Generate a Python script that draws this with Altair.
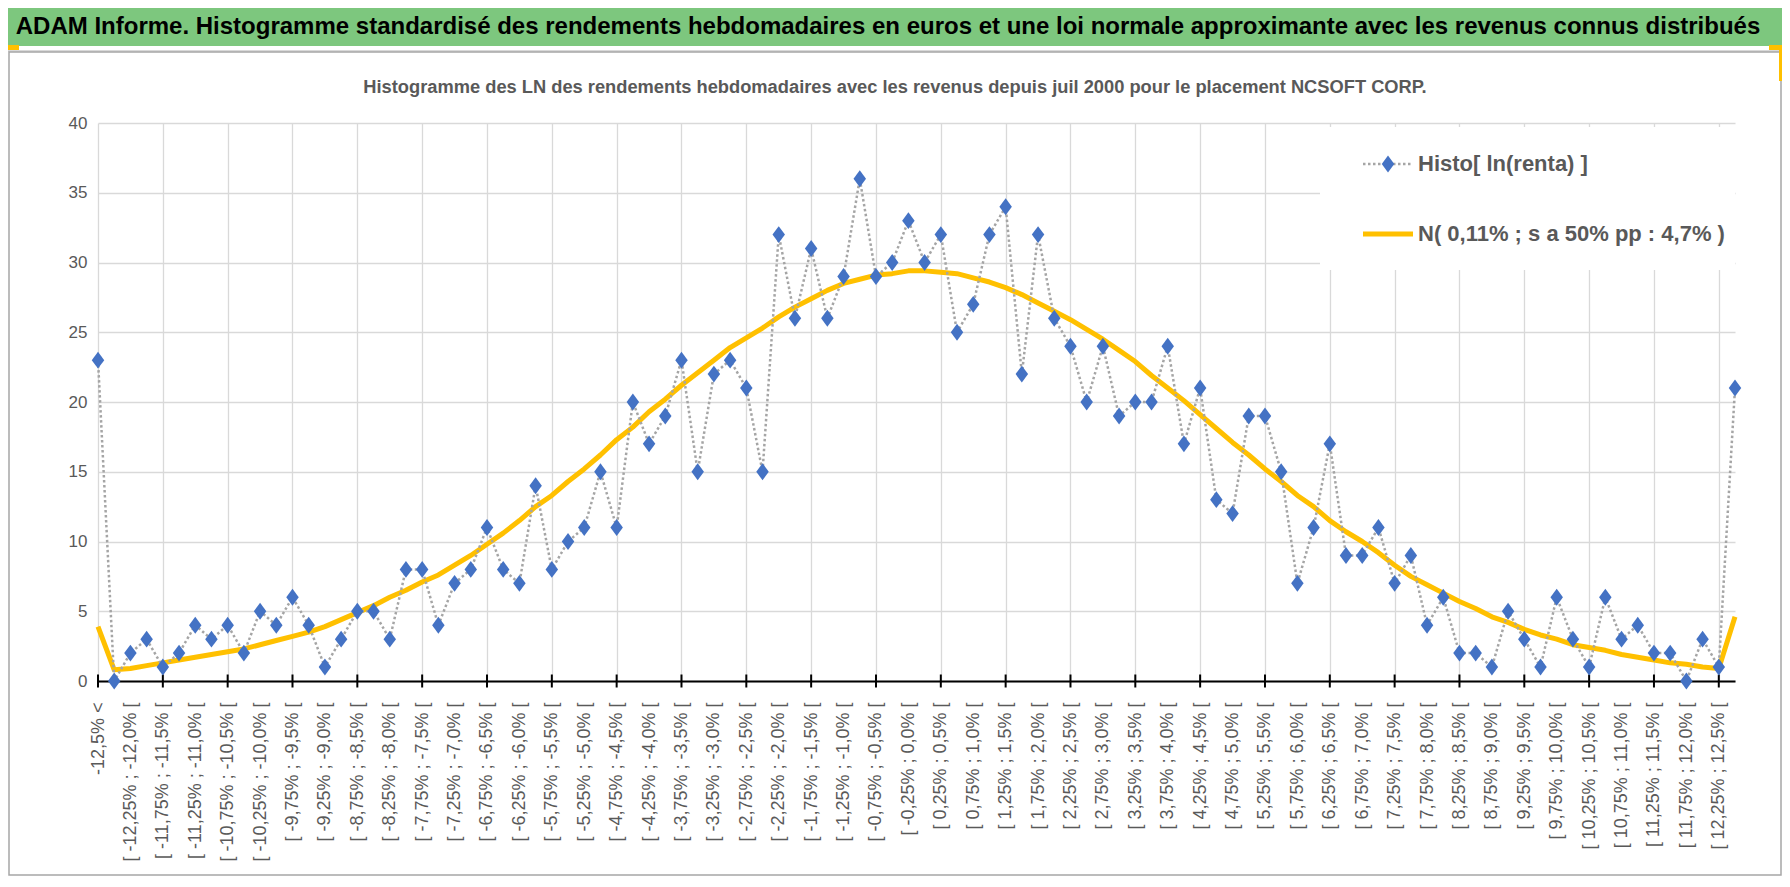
import json
import altair as alt
import pandas as pd

# ---- data ----
HISTO = [23, 0, 2, 3, 1, 2, 4, 3, 4, 2,
         5, 4, 6, 4, 1, 3, 5, 5, 3, 8,
         8, 4, 7, 8, 11, 8, 7, 14, 8, 10,
         11, 15, 11, 20, 17, 19, 23, 15, 22, 23,
         21, 15, 32, 26, 31, 26, 29, 36, 29, 30,
         33, 30, 32, 25, 27, 32, 34, 22, 32, 26,
         24, 20, 24, 19, 20, 20, 24, 17, 21, 13,
         12, 19, 19, 15, 7, 11, 17, 9, 9, 11,
         7, 9, 4, 6, 2, 2, 1, 5, 3, 1,
         6, 3, 1, 6, 3, 4, 2, 2, 0, 3,
         1, 21]

NORMAL = [3.9, 0.8, 0.9, 1.1, 1.3, 1.5, 1.7, 1.9, 2.1, 2.3,
          2.6, 2.9, 3.2, 3.5, 3.9, 4.4, 4.9, 5.4, 6.0, 6.5,
          7.1, 7.6, 8.3, 9.0, 9.8, 10.6, 11.5, 12.5, 13.3, 14.3,
          15.2, 16.2, 17.3, 18.2, 19.3, 20.2, 21.2, 22.1, 23.0, 23.9,
          24.6, 25.3, 26.1, 26.8, 27.4, 28.0, 28.5, 28.8, 29.1, 29.2,
          29.4, 29.4, 29.3, 29.2, 28.9, 28.6, 28.2, 27.7, 27.1, 26.5,
          25.9, 25.2, 24.5, 23.7, 22.9, 21.9, 21.0, 20.1, 19.1, 18.1,
          17.1, 16.2, 15.2, 14.3, 13.3, 12.5, 11.5, 10.7, 10.0, 9.2,
          8.3, 7.5, 6.9, 6.3, 5.7, 5.2, 4.6, 4.2, 3.7, 3.3,
          3.0, 2.6, 2.4, 2.2, 1.9, 1.7, 1.5, 1.3, 1.2, 1.0,
          0.9, 4.6]

# labels shown on every second category (category index = 2 * position in this list)
SHOWN_LABELS = [
    "-12,5% <",
    "[ -12,25% ; -12,0% [", "[ -11,75% ; -11,5% [", "[ -11,25% ; -11,0% [",
    "[ -10,75% ; -10,5% [", "[ -10,25% ; -10,0% [", "[ -9,75% ; -9,5% [",
    "[ -9,25% ; -9,0% [", "[ -8,75% ; -8,5% [", "[ -8,25% ; -8,0% [",
    "[ -7,75% ; -7,5% [", "[ -7,25% ; -7,0% [", "[ -6,75% ; -6,5% [",
    "[ -6,25% ; -6,0% [", "[ -5,75% ; -5,5% [", "[ -5,25% ; -5,0% [",
    "[ -4,75% ; -4,5% [", "[ -4,25% ; -4,0% [", "[ -3,75% ; -3,5% [",
    "[ -3,25% ; -3,0% [", "[ -2,75% ; -2,5% [", "[ -2,25% ; -2,0% [",
    "[ -1,75% ; -1,5% [", "[ -1,25% ; -1,0% [", "[ -0,75% ; -0,5% [",
    "[ -0,25% ; 0,0% [", "[ 0,25% ; 0,5% [", "[ 0,75% ; 1,0% [",
    "[ 1,25% ; 1,5% [", "[ 1,75% ; 2,0% [", "[ 2,25% ; 2,5% [",
    "[ 2,75% ; 3,0% [", "[ 3,25% ; 3,5% [", "[ 3,75% ; 4,0% [",
    "[ 4,25% ; 4,5% [", "[ 4,75% ; 5,0% [", "[ 5,25% ; 5,5% [",
    "[ 5,75% ; 6,0% [", "[ 6,25% ; 6,5% [", "[ 6,75% ; 7,0% [",
    "[ 7,25% ; 7,5% [", "[ 7,75% ; 8,0% [", "[ 8,25% ; 8,5% [",
    "[ 8,75% ; 9,0% [", "[ 9,25% ; 9,5% [", "[ 9,75% ; 10,0% [",
    "[ 10,25% ; 10,5% [", "[ 10,75% ; 11,0% [", "[ 11,25% ; 11,5% [",
    "[ 11,75% ; 12,0% [", "[ 12,25% ; 12,5% [",
]

BANNER = ("ADAM Informe. Histogramme standardisé des rendements hebdomadaires en euros "
          "et une loi normale approximante avec les revenus connus distribués")
SUBTITLE = ("Histogramme des LN des rendements hebdomadaires avec les revenus depuis "
            "juil 2000 pour le placement NCSOFT CORP.")
LEGEND_HISTO = "Histo[ ln(renta) ]"
LEGEND_NORMAL = "N( 0,11% ; s a 50% pp : 4,7% )"

Y_TICKS = [0, 5, 10, 15, 20, 25, 30, 35, 40]

FONT = "Liberation Sans, Arial, sans-serif"
DIAMOND = "M0,-1.35L1,0L0,1.35L-1,0Z"

W, H = 1637, 558

df = pd.DataFrame({"pos": list(range(len(HISTO))), "histo": HISTO, "normal": NORMAL})
one = alt.Data(values=[{"k": 0}])

label_expr = json.dumps(SHOWN_LABELS) + "[datum.value / 2]"

x_axis = alt.Axis(
    values=list(range(0, len(HISTO) - 1, 2)),
    labelExpr=label_expr,
    labelAngle=-90,
    labelOverlap=False,
    labelFlush=False,
    labelBound=False,
    labelFont=FONT,
    labelFontSize=18,
    labelColor="#595959",
    labelPadding=14,
    domainColor="#000000",
    domainWidth=2,
    tickColor="#000000",
    tickWidth=2,
    tickSize=7,
    tickOpacity=0,
    grid=True,
    gridColor="#D9D9D9",
    gridWidth=1.3,
    gridOpacity={"condition": {"test": "datum.value % 4 === 0", "value": 1}, "value": 0},
    title=None,
)
y_axis = alt.Axis(
    values=Y_TICKS,
    domain=False,
    ticks=False,
    grid=True,
    gridColor="#D9D9D9",
    gridWidth=1.3,
    labelFont=FONT,
    labelFontSize=17,
    labelColor="#595959",
    labelPadding=11,
    title=None,
)

xs = alt.X("pos:Q", scale=alt.Scale(domain=[0, len(HISTO) - 1], nice=False, zero=False), axis=x_axis)
ys = alt.Scale(domain=[0, 40], nice=False)

base = alt.Chart(df)

normal_line = base.mark_line(color="#FFC000", strokeWidth=5, strokeJoin="round").encode(
    x=xs, y=alt.Y("normal:Q", scale=ys, axis=y_axis)
)
histo_line = base.mark_line(color="#A5A5A5", strokeWidth=2.5, strokeDash=[2.5, 2.5]).encode(
    x=xs, y=alt.Y("histo:Q", scale=ys)
)
histo_pts = base.mark_point(shape=DIAMOND, filled=True, size=156, color="#4472C4", opacity=1).encode(
    x=xs, y=alt.Y("histo:Q", scale=ys)
)
# tick marks crossing the category axis every 4 categories
cross_ticks = base.transform_filter("datum.pos % 4 === 0").mark_tick(
    color="#000000", thickness=2, size=13, orient="vertical", opacity=1
).encode(x=xs, y=alt.value(H))

# decorations (banner, frame, titles, legend)
banner_rect = alt.Chart(one).mark_rect(color="#7DC77E").encode(
    x=alt.value(-90), x2=alt.value(W + 47), y=alt.value(-115), y2=alt.value(-77)
)
under_line = alt.Chart(one).mark_rule(color="#D9D9D9", strokeWidth=2).encode(
    x=alt.value(-90), x2=alt.value(W + 47), y=alt.value(-72)
)
frame = alt.Chart(one).mark_rect(fill=None, stroke="#A6A6A6", strokeWidth=1.5).encode(
    x=alt.value(-89), x2=alt.value(W + 46), y=alt.value(-71), y2=alt.value(752)
)
corner_l = alt.Chart(one).mark_rect(color="#FFC000").encode(
    x=alt.value(-90), x2=alt.value(-79), y=alt.value(-78), y2=alt.value(-73)
)
corner_r = alt.Chart(one).mark_rect(color="#FFC000").encode(
    x=alt.value(W + 34), x2=alt.value(W + 47), y=alt.value(-78), y2=alt.value(-73)
)
corner_r2 = alt.Chart(one).mark_rect(color="#FFC000").encode(
    x=alt.value(W + 44), x2=alt.value(W + 47), y=alt.value(-78), y2=alt.value(-42)
)
banner_text = alt.Chart(one).mark_text(
    text=BANNER, font=FONT, fontSize=24, fontWeight="bold", color="#000000",
    align="center", baseline="middle"
).encode(x=alt.value(790), y=alt.value(-96))
subtitle = alt.Chart(one).mark_text(
    text=SUBTITLE, font=FONT, fontSize=18.3, fontWeight="bold", color="#595959",
    align="center", baseline="middle"
).encode(x=alt.value(797), y=alt.value(-35))

leg_bg = alt.Chart(one).mark_rect(color="#FFFFFF").encode(
    x=alt.value(1222), x2=alt.value(W), y=alt.value(4), y2=alt.value(147)
)
leg_histo_line = alt.Chart(one).mark_rule(color="#A5A5A5", strokeWidth=2.5, strokeDash=[2.5, 2.5]).encode(
    x=alt.value(1265), x2=alt.value(1315), y=alt.value(41)
)
leg_histo_pt = alt.Chart(one).mark_point(shape=DIAMOND, filled=True, size=156, color="#4472C4", opacity=1).encode(
    x=alt.value(1290), y=alt.value(41)
)
leg_histo_txt = alt.Chart(one).mark_text(
    text=LEGEND_HISTO, font=FONT, fontSize=22, fontWeight="bold", color="#595959",
    align="left", baseline="middle"
).encode(x=alt.value(1320), y=alt.value(41))
leg_norm_line = alt.Chart(one).mark_rule(color="#FFC000", strokeWidth=5).encode(
    x=alt.value(1265), x2=alt.value(1315), y=alt.value(111)
)
leg_norm_txt = alt.Chart(one).mark_text(
    text=LEGEND_NORMAL, font=FONT, fontSize=22, fontWeight="bold", color="#595959",
    align="left", baseline="middle"
).encode(x=alt.value(1320), y=alt.value(111))

chart = alt.layer(
    banner_rect, under_line, frame, corner_l, corner_r, corner_r2, banner_text, subtitle,
    cross_ticks, normal_line, histo_line, histo_pts,
    leg_bg, leg_histo_line, leg_histo_pt, leg_histo_txt, leg_norm_line, leg_norm_txt,
).properties(
    width=W, height=H,
    padding={"left": 90, "top": 115, "right": 47, "bottom": 195},
    autosize=alt.AutoSizeParams(type="none"),
    background="#FFFFFF",
).configure_view(stroke=None)

chart.save("out.html", embed_options={"renderer": "svg", "actions": False})
